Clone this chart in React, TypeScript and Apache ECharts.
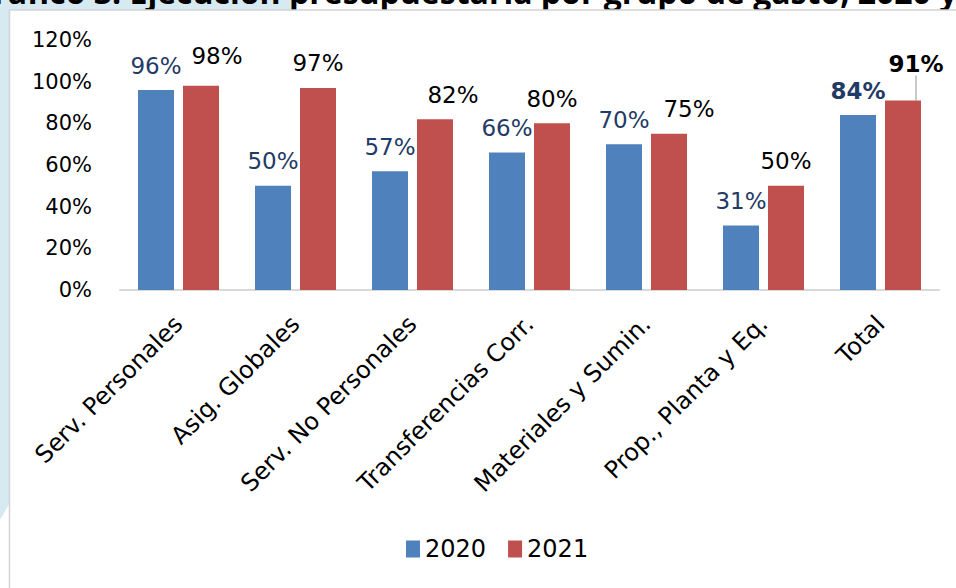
import React, { useEffect, useRef } from "react";
import * as echarts from "echarts";

const categories = [
  "Serv. Personales",
  "Asig. Globales",
  "Serv. No Personales",
  "Transferencias Corr.",
  "Materiales y Sumin.",
  "Prop., Planta y Eq.",
  "Total",
];
const values2020 = [96, 50, 57, 66, 70, 31, 84];
const values2021 = [98, 97, 82, 80, 75, 50, 91];
const seriesNames = ["2020", "2021"];
const yMin = 0;
const yMax = 120;
const yStep = 20;
const titleText = "Gráfico 3. Ejecución presupuestaria por grupo de gasto, 2020 y 2021";

// manual label nudges (as in the source chart)
const offsets2021: number[][] = [[16, -5], [0, 0], [18, 0], [0, 0], [20, 0], [0, 0], [13, -12]];

const FONT = "'DejaVu Sans', sans-serif";
const BLUE = "#4F81BD";
const RED = "#C0504D";
const NAVY = "#1F3B66";

export default function App() {
  const ref = useRef<HTMLDivElement>(null);
  useEffect(() => {
    if (!ref.current) return;
    const chart = echarts.init(ref.current, null, { renderer: "svg" });
    const last = categories.length - 1;
    const option: any = {
      animation: false,
      backgroundColor: "#ffffff",
      textStyle: { fontFamily: FONT },
      graphic: {
        elements: [
          {
            type: "polygon",
            shape: { points: [[0, 0], [300, 0], [0, 520]] },
            style: { fill: "#D7EAF1" },
            z: -10,
          },
          {
            type: "text",
            x: -30,
            y: -9,
            style: {
              text: titleText,
              font: "bold 32px 'Open Sans', sans-serif",
              fill: "#000000",
              verticalAlign: "middle",
              align: "left",
            },
            z: -9,
          },
          {
            type: "rect",
            shape: { x: 9.5, y: 10, width: 980, height: 620 },
            style: { fill: "#ffffff", stroke: "#D4D4D4", lineWidth: 1.5 },
            z: -8,
          },
        ],
      },
      grid: { left: 120, right: 17, top: 40, bottom: 298, containLabel: false },
      legend: {
        data: seriesNames,
        bottom: 22,
        left: 401,
        icon: "rect",
        itemWidth: 14,
        itemHeight: 17,
        itemGap: 22,
        textStyle: { fontFamily: FONT, fontSize: 24, color: "#000" },
      },
      xAxis: {
        type: "category",
        data: categories,
        axisLine: { show: true, lineStyle: { color: "#D9D9D9", width: 2 } },
        axisTick: { show: false },
        axisLabel: {
          rotate: 45,
          interval: 0,
          margin: 30,
          fontFamily: FONT,
          fontSize: 24,
          color: "#000",
        },
      },
      yAxis: {
        type: "value",
        min: yMin,
        max: yMax,
        interval: yStep,
        splitLine: { show: false },
        axisLine: { show: false },
        axisTick: { show: false },
        axisLabel: {
          formatter: "{value}%",
          margin: 28,
          fontFamily: FONT,
          fontSize: 21,
          color: "#000",
        },
      },
      series: [
        {
          name: seriesNames[0],
          type: "bar",
          barWidth: 36,
          barGap: "25%",
          itemStyle: { color: BLUE },
          label: {
            show: true,
            position: "top",
            distance: 13,
            formatter: "{c}%",
            fontFamily: FONT,
            fontSize: 23,
            color: NAVY,
          },
          data: values2020.map((v, i) =>
            i === last ? { value: v, label: { fontWeight: "bold" } } : v
          ),
        },
        {
          name: seriesNames[1],
          type: "bar",
          barWidth: 36,
          barGap: "25%",
          itemStyle: { color: RED },
          label: {
            show: true,
            position: "top",
            distance: 13,
            formatter: "{c}%",
            fontFamily: FONT,
            fontSize: 23,
            color: "#000",
          },
          labelLayout: (p: any) => ({
            dx: offsets2021[p.dataIndex][0],
            dy: offsets2021[p.dataIndex][1],
          }),
          data: values2021.map((v, i) =>
            i === last
              ? {
                  value: v,
                  label: { fontWeight: "bold" },
                  labelLine: { show: true, lineStyle: { color: "#A6A6A6", width: 1.2 } },
                }
              : v
          ),
        },
      ],
    };
    chart.setOption(option);
    return () => chart.dispose();
  }, []);
  return (
    <div
      ref={ref}
      style={{ position: "fixed", left: 0, top: 0, width: 956, height: 588 }}
    />
  );
}
